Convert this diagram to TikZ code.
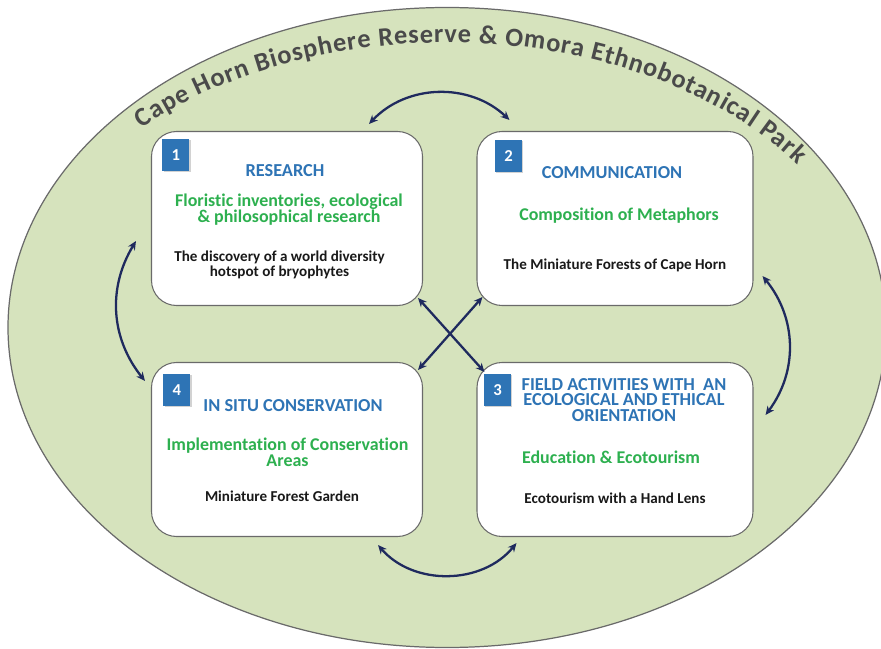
\documentclass[tikz,border=0pt]{standalone}
\usepackage{fontspec}
\setmainfont{Carlito}[Ligatures=NoCommon]
\usetikzlibrary{arrows.meta,decorations.text,shadows}
\definecolor{parkgreen}{HTML}{D6E3BD}
\definecolor{headblue}{HTML}{2E74B5}
\definecolor{subgreen}{HTML}{2DB04F}
\definecolor{linknavy}{HTML}{1F2A5E}
\definecolor{rimgrey}{HTML}{6A6A6A}
\definecolor{titlegrey}{HTML}{4A4A4A}
\newcommand{\titlefont}{\fontsize{15}{15}\selectfont\bfseries}

\begin{document}
\begin{tikzpicture}[
	panel/.style={draw=rimgrey, line width=0.6pt, fill=white, rounded corners=0.5cm, minimum height=3.48cm},
	badge/.style={fill=headblue, minimum width=0.54cm, minimum height=0.64cm, inner sep=0pt, text=white,
		font=\fontsize{9.5}{9.5}\selectfont\bfseries, drop shadow={opacity=0.35, shadow xshift=0.6pt, shadow yshift=-0.8pt}},
	head/.style={text=headblue, font=\fontsize{10.4}{9}\selectfont\bfseries, align=center},
	sub/.style={text=subgreen, font=\fontsize{10.2}{8.9}\selectfont\bfseries, align=center},
	note/.style={text=black!90, font=\fontsize{8.6}{8.6}\selectfont\bfseries, align=center},
	link/.style={draw=linknavy, line width=1.3pt, {Stealth[length=5pt,width=4.5pt]}-{Stealth[length=5pt,width=4.5pt]}}
]
	\useasboundingbox (0,0) rectangle (17.62,12.96);
	\draw[fill=parkgreen, draw=rimgrey, line width=0.7pt] (8.94,6.41) ellipse (8.78 and 6.4);
	\path[decorate, decoration={text along path, text align=fit to path, text color=titlegrey,
		text={|\titlefont|Cape Horn Biosphere Reserve {\&} Omora Ethnobotanical Park}}]
		(8.94,6.41) ++(135.6:8.54 and 5.7) arc[start angle=135.6, end angle=34.8, x radius=8.54, y radius=5.7];

	\node[panel, minimum width=5.42cm] (box1) at (5.74,8.59) {};
	\node[panel, minimum width=5.52cm] (box2) at (12.3,8.59) {};
	\node[panel, minimum width=5.52cm] (box3) at (12.3,3.97) {};
	\node[panel, minimum width=5.42cm] (box4) at (5.74,3.97) {};

	\node[badge] (num1) at ([shift={(0.5,-0.48)}]box1.north west) {1};
	\node[badge] (num2) at ([shift={(0.64,-0.5)}]box2.north west) {2};
	\node[badge] (num3) at ([shift={(0.42,-0.56)}]box3.north west) {3};
	\node[badge] (num4) at ([shift={(0.52,-0.56)}]box4.north west) {4};

	\node[head] (head1) at (5.70,9.54) {RESEARCH};
	\node[sub] (sub1) at (5.78,8.77) {Floristic inventories, ecological\\\& philosophical research};
	\node[note] (note1) at (5.59,7.67) {The discovery of a world diversity\\hotspot of bryophytes};

	\node[head] (head2) at (12.24,9.5) {COMMUNICATION};
	\node[sub] (sub2) at (12.38,8.64) {Composition of Metaphors};
	\node[note] (note2) at (12.3,7.66) {The Miniature Forests of Cape Horn};

	\node[head] (head3) at (12.48,4.96) {FIELD ACTIVITIES WITH\ \ AN\\ECOLOGICAL AND ETHICAL\\ORIENTATION};
	\node[sub] (sub3) at (12.22,3.82) {Education \& Ecotourism};
	\node[note] (note3) at (12.3,3.0) {Ecotourism with a Hand Lens};

	\node[head] (head4) at (5.86,4.84) {IN SITU CONSERVATION};
	\node[sub] (sub4) at (5.75,3.91) {Implementation of Conservation\\Areas};
	\node[note] (note4) at (5.64,3.04) {Miniature Forest Garden};

	\draw[link] ([shift={(-1.08,0.14)}]box1.north east) to[bend left=45] ([shift={(0.66,0.22)}]box2.north west);
	\draw[link] ([shift={(-0.3,1.3)}]box1.south west) to[bend right=35] ([shift={(-0.12,-0.38)}]box4.north west);
	\draw[link] ([shift={(0.18,0.6)}]box2.south east) to[bend left=38] ([shift={(0.24,-1.06)}]box3.north east);
	\draw[link] ([shift={(-0.9,-0.16)}]box4.south east) to[bend right=50] ([shift={(0.8,-0.12)}]box3.south west);
	\draw[link] ([shift={(-0.1,0.16)}]box1.south east) -- ([shift={(0.16,-0.2)}]box3.north west);
	\draw[link] ([shift={(0.12,0.18)}]box2.south west) -- ([shift={(-0.1,-0.16)}]box4.north east);
\end{tikzpicture}
\end{document}
